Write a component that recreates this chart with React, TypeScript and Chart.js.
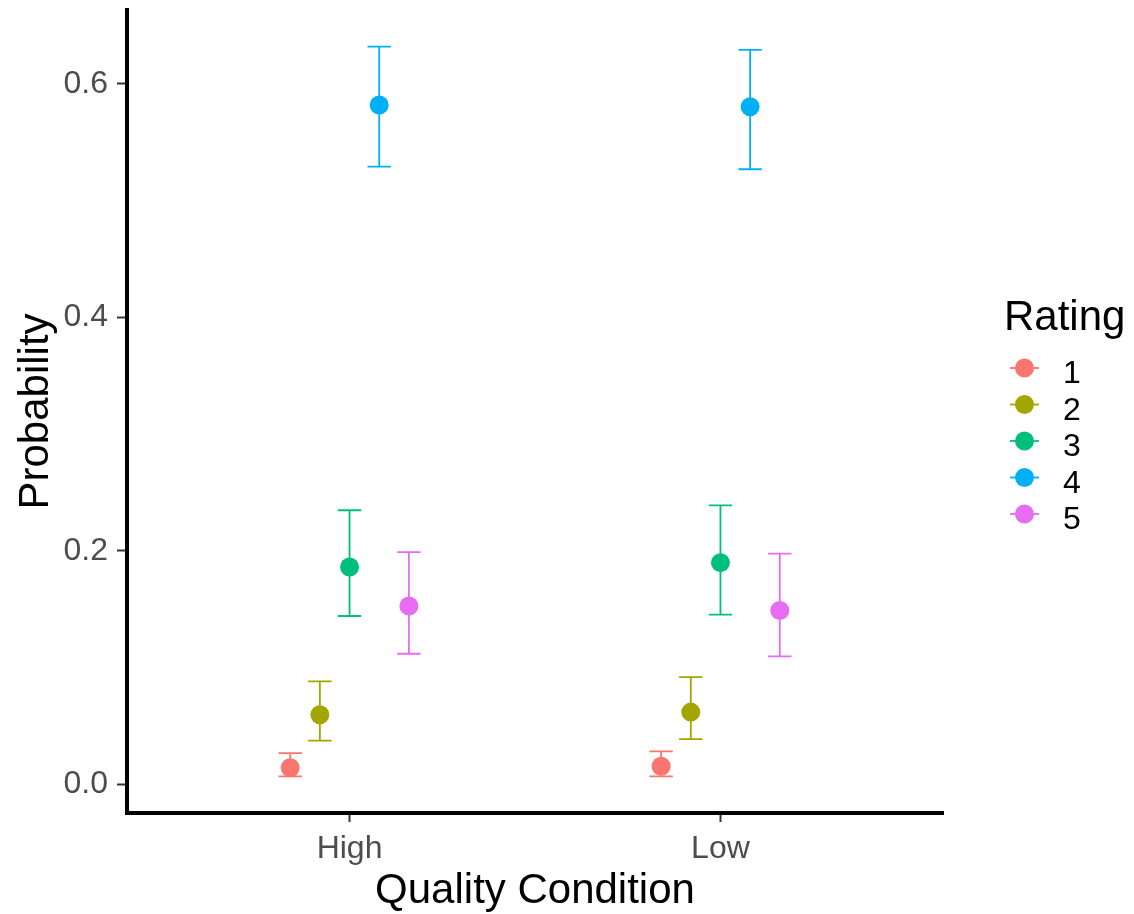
import React, { useEffect, useRef } from 'react';
import { Chart, registerables } from 'chart.js';

Chart.register(...registerables);

// ---- data ----
const categories = ['High', 'Low'];
const ratings = ['1', '2', '3', '4', '5'];
const ratingColors = ['#F8766D', '#A3A500', '#00BF7D', '#00B0F6', '#E76BF3'];

const highMean = [0.0143, 0.0597, 0.1863, 0.582, 0.1528];
const highLower = [0.0069, 0.0375, 0.1443, 0.5291, 0.112];
const highUpper = [0.0268, 0.0883, 0.2349, 0.632, 0.1991];

const lowMean = [0.0157, 0.062, 0.19, 0.5805, 0.1491];
const lowLower = [0.0069, 0.0388, 0.1455, 0.5269, 0.1097];
const lowUpper = [0.0283, 0.092, 0.2391, 0.6291, 0.1977];

const yTicks = [0.0, 0.2, 0.4, 0.6];

const xTitle = 'Quality Condition';
const yTitle = 'Probability';
const legendTitle = 'Rating';

// ---- style ----
const FONT = "'Liberation Sans', Arial, Helvetica, sans-serif";
const DODGE = 0.08;
const CAP_HALF = 0.0315;

export default function App() {
  const ref = useRef<HTMLCanvasElement>(null);

  useEffect(() => {
    const canvas = ref.current;
    if (!canvas) return;

    const means = [highMean, lowMean];
    const lowers = [highLower, lowLower];
    const uppers = [highUpper, lowUpper];

    const datasets = ratings.map((r, i) => ({
      label: r,
      data: categories.map((_, ci) => ({
        x: ci + 1 + (i - 2) * DODGE,
        y: means[ci][i],
        lo: lowers[ci][i],
        hi: uppers[ci][i],
      })),
      backgroundColor: ratingColors[i],
      borderColor: ratingColors[i],
      pointRadius: 9.5,
      pointHoverRadius: 9.5,
      pointBorderWidth: 0,
      showLine: false,
    }));

    const errorBars = {
      id: 'errorBars',
      beforeDatasetsDraw(chart: any) {
        const { ctx } = chart;
        const x = chart.scales.x;
        const y = chart.scales.y;
        ctx.save();
        chart.data.datasets.forEach((ds: any) => {
          ctx.strokeStyle = ds.borderColor;
          ctx.lineWidth = 1.8;
          ds.data.forEach((p: any) => {
            const px = x.getPixelForValue(p.x);
            const xl = x.getPixelForValue(p.x - CAP_HALF);
            const xr = x.getPixelForValue(p.x + CAP_HALF);
            const yl = y.getPixelForValue(p.lo);
            const yh = y.getPixelForValue(p.hi);
            ctx.beginPath();
            ctx.moveTo(px, yh);
            ctx.lineTo(px, yl);
            ctx.moveTo(xl, yh);
            ctx.lineTo(xr, yh);
            ctx.moveTo(xl, yl);
            ctx.lineTo(xr, yl);
            ctx.stroke();
          });
        });
        ctx.restore();
      },
    };

    const annotations = {
      id: 'annotations',
      afterDraw(chart: any) {
        const { ctx, chartArea } = chart;
        ctx.save();
        ctx.fillStyle = '#000000';
        // x title
        ctx.font = `42px ${FONT}`;
        ctx.textAlign = 'center';
        ctx.textBaseline = 'alphabetic';
        ctx.fillText(xTitle, (chartArea.left + chartArea.right) / 2, 902.5);
        // y title
        ctx.save();
        ctx.translate(48, (chartArea.top + chartArea.bottom) / 2);
        ctx.rotate(-Math.PI / 2);
        ctx.fillText(yTitle, 0, 0);
        ctx.restore();
        // legend
        ctx.textAlign = 'left';
        ctx.font = `42px ${FONT}`;
        ctx.fillText(legendTitle, 1004, 330);
        ctx.font = `32px ${FONT}`;
        ratings.forEach((r, i) => {
          const cy = 368 + i * 36.5;
          ctx.strokeStyle = ratingColors[i];
          ctx.lineWidth = 1.8;
          ctx.beginPath();
          ctx.moveTo(1010, cy);
          ctx.lineTo(1039, cy);
          ctx.stroke();
          ctx.fillStyle = ratingColors[i];
          ctx.beginPath();
          ctx.arc(1024.5, cy, 9.5, 0, Math.PI * 2);
          ctx.fill();
          ctx.fillStyle = '#000000';
          ctx.fillText(r, 1063, cy + 15);
        });
        ctx.restore();
      },
    };

    const chart = new Chart(canvas, {
      type: 'scatter',
      data: { datasets: datasets as any },
      options: {
        animation: false,
        responsive: false,
        maintainAspectRatio: false,
        events: [],
        layout: { autoPadding: false, padding: { left: 0, right: 1134 - 943, top: 10, bottom: 0 } } as any,
        plugins: {
          legend: { display: false },
          tooltip: { enabled: false },
          title: { display: false },
        },
        scales: {
          x: {
            type: 'linear',
            position: 'bottom',
            min: 0.4,
            max: 2.6,
            afterBuildTicks: (s: any) => {
              s.ticks = categories.map((_, i) => ({ value: i + 1 }));
            },
            afterFit: (s: any) => {
              s.height = 914 - 813;
              s.paddingLeft = 0;
              s.paddingRight = 0;
            },
            ticks: {
              callback: (v: any) => categories[Math.round(Number(v)) - 1] ?? '',
              font: { family: FONT, size: 32 },
              color: '#4D4D4D',
              padding: 8,
              maxRotation: 0,
              autoSkip: false,
            },
            grid: {
              display: true,
              drawOnChartArea: false,
              drawTicks: true,
              tickLength: 9,
              tickColor: '#333333',
              tickWidth: 2,
            },
            border: { display: true, color: '#000000', width: 4 },
          },
          y: {
            type: 'linear',
            position: 'left',
            min: -0.0244,
            max: 0.6633,
            afterBuildTicks: (s: any) => {
              s.ticks = yTicks.map((v) => ({ value: v }));
            },
            afterFit: (s: any) => {
              s.width = 127;
              s.paddingTop = 0;
              s.paddingBottom = 0;
            },
            ticks: {
              callback: (v: any) => Number(v).toFixed(1),
              font: { family: FONT, size: 32 },
              color: '#4D4D4D',
              padding: 9,
            },
            grid: {
              display: true,
              drawOnChartArea: false,
              drawTicks: true,
              tickLength: 10,
              tickColor: '#333333',
              tickWidth: 2,
            },
            border: { display: true, color: '#000000', width: 4 },
          },
        },
      },
      plugins: [errorBars, annotations],
    });

    return () => chart.destroy();
  }, []);

  return (
    <div
      style={{
        position: 'fixed',
        left: 0,
        top: 0,
        width: 1134,
        height: 914,
        background: '#ffffff',
      }}
    >
      <canvas ref={ref} width={1134} height={914} style={{ width: 1134, height: 914, display: 'block' }} />
    </div>
  );
}
